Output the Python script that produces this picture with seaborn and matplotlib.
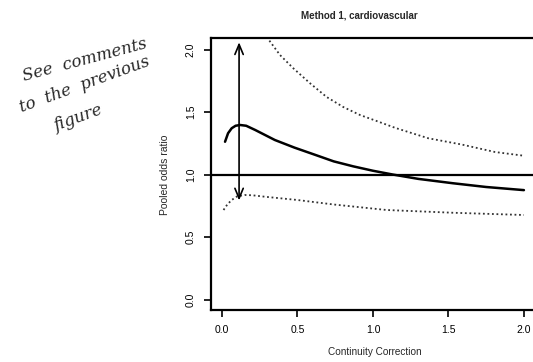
import matplotlib
matplotlib.use("Agg")
import matplotlib.pyplot as plt
import seaborn as sns
import pandas as pd

# ---- data ----
est_x = [0.02, 0.04, 0.064, 0.09, 0.12, 0.16, 0.22, 0.35, 0.48, 0.62, 0.74, 0.87, 1.0, 1.13, 1.3, 1.53, 1.75, 2.0]
est_y = [1.262, 1.33, 1.37, 1.39, 1.396, 1.39, 1.356, 1.276, 1.215, 1.156, 1.105, 1.065, 1.03, 1.0, 0.965, 0.93, 0.90, 0.875]

upper_x = [0.296, 0.384, 0.472, 0.583, 0.693, 0.803, 0.914, 1.024, 1.15, 1.366, 1.587, 1.808, 2.0]
upper_y = [2.10, 1.956, 1.85, 1.73, 1.62, 1.54, 1.476, 1.428, 1.372, 1.29, 1.24, 1.18, 1.15]

lower_x = [0.01, 0.035, 0.064, 0.1, 0.15, 0.2, 0.285, 0.5, 0.74, 1.09, 1.53, 2.0]
lower_y = [0.716, 0.76, 0.796, 0.825, 0.836, 0.834, 0.822, 0.796, 0.76, 0.716, 0.694, 0.676]

ref_y = 1.0
x_ticks = [0.0, 0.5, 1.0, 1.5, 2.0]
y_ticks = [0.0, 0.5, 1.0, 1.5, 2.0]
title = "Method 1, cardiovascular"
xlabel = "Continuity Correction"
ylabel = "Pooled odds ratio"
note_lines = ["See  comments", "to  the  previous", "figure"]
arrow_x = 0.113
arrow_top, arrow_bottom = 2.08, 0.77

sns.set_theme(style="ticks")
plt.rcParams["font.family"] = ["Liberation Sans", "DejaVu Sans"]

W, H = 533, 362
fig = plt.figure(figsize=(W / 100, H / 100), dpi=100)
L, R, T, B = 211, 536, 38, 309.5
ax = fig.add_axes([L / W, 1 - B / H, (R - L) / W, (B - T) / H])

df_est = pd.DataFrame({"x": est_x, "y": est_y})
df_up = pd.DataFrame({"x": upper_x, "y": upper_y})
df_lo = pd.DataFrame({"x": lower_x, "y": lower_y})

sns.lineplot(data=df_est, x="x", y="y", ax=ax, color="black", lw=1.8)
sns.lineplot(data=df_up, x="x", y="y", ax=ax, color="#333333", lw=1.3, ls=(0, (1, 1.5)))
sns.lineplot(data=df_lo, x="x", y="y", ax=ax, color="#333333", lw=1.3, ls=(0, (1, 1.5)))
ax.axhline(ref_y, color="black", lw=1.6)

ax.set_xlim(-0.073, 2.08)
ax.set_ylim(-0.08, 2.092)
ax.set_xticks(x_ticks)
ax.set_yticks(y_ticks)
ax.set_xticklabels([f"{v:.1f}" for v in x_ticks], fontsize=7.5)
ax.set_yticklabels([f"{v:.1f}" for v in y_ticks], fontsize=7.5, rotation=90, va="center")
ax.tick_params(direction="out", length=5, width=1.2, colors="black", pad=6)
for s in ax.spines.values():
    s.set_color("black")
    s.set_linewidth(1.6)
ax.set_xlabel("")
ax.set_ylabel("")

fig.text(359 / W, 1 - 15 / H, title, ha="center", va="center", fontsize=7.0, fontweight="bold")
fig.text(375 / W, 1 - 352 / H, xlabel, ha="center", va="center", fontsize=7.2)
fig.text(165 / W, 1 - 175 / H, ylabel, ha="center", va="center", fontsize=7.5, rotation=90)

ax.annotate("", xy=(arrow_x, arrow_top), xytext=(arrow_x, arrow_bottom),
            arrowprops=dict(arrowstyle="<->,head_length=0.6,head_width=0.25", color="black", lw=1.2),
            annotation_clip=False)

note_pos = [(85, 60, 15), (85, 85, 20), (78, 118, 20)]
for txt, (px, py, rot) in zip(note_lines, note_pos):
    fig.text(px / W, 1 - py / H, txt, ha="center", va="center", fontsize=12,
             rotation=rot, family=["DejaVu Serif"], style="italic")

fig.savefig("out.png", dpi=100)
